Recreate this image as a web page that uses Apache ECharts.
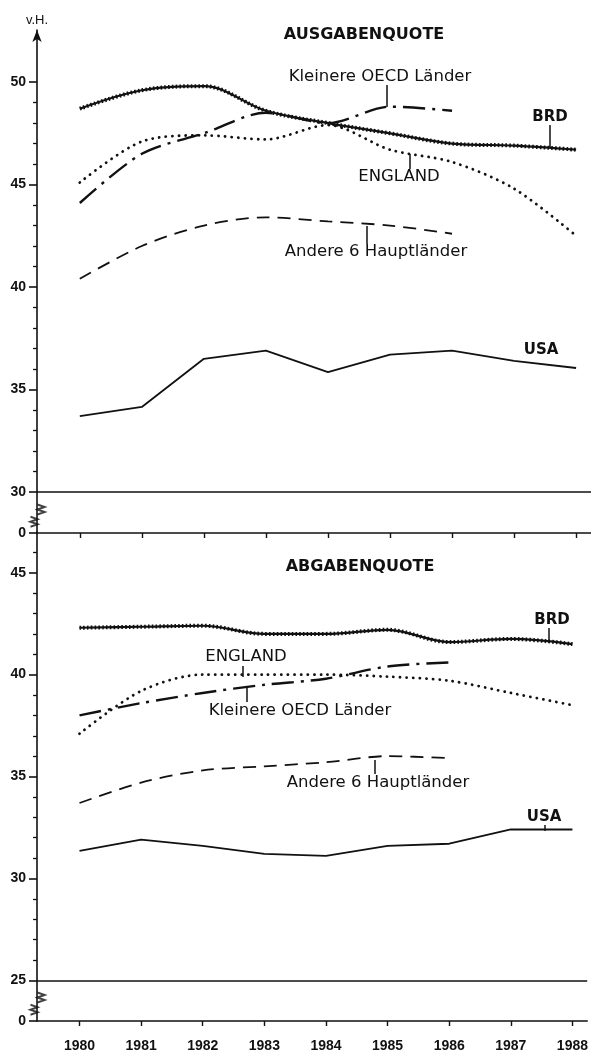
<!DOCTYPE html>
<html><head><meta charset="utf-8">
<script src="https://cdn.jsdelivr.net/npm/echarts@6/dist/echarts.min.js"></script>
<style>html,body{margin:0;padding:0;background:#fff}#c{width:591px;height:1053px}</style>
</head><body><div id="c"></div><script>
// ---- data ----
const years = [1980, 1981, 1982, 1983, 1984, 1985, 1986, 1987, 1988];
const yearsShort = [1980, 1981, 1982, 1983, 1984, 1985, 1986];
// Ausgabenquote (top)
const ausBRD = [48.7, 49.6, 49.8, 48.6, 48.0, 47.5, 47.0, 46.9, 46.7];
const ausEngland = [45.1, 47.1, 47.4, 47.2, 47.9, 46.7, 46.1, 44.8, 42.5];
const ausKleinere = [44.1, 46.5, 47.5, 48.5, 48.0, 48.8, 48.6];
const ausAndere = [40.4, 42.0, 43.0, 43.4, 43.2, 43.0, 42.6];
const ausUSA = [33.7, 34.15, 36.5, 36.9, 35.85, 36.7, 36.9, 36.4, 36.05];
// Abgabenquote (bottom)
const abgBRD = [42.3, 42.35, 42.4, 42.0, 42.0, 42.2, 41.6, 41.75, 41.5];
const abgEngland = [37.1, 39.2, 40.0, 40.0, 40.0, 39.9, 39.7, 39.1, 38.5];
const abgKleinere = [38.0, 38.6, 39.1, 39.5, 39.8, 40.4, 40.6];
const abgAndere = [33.7, 34.7, 35.3, 35.5, 35.7, 36.0, 35.9];
const abgUSA = [31.35, 31.9, 31.6, 31.2, 31.1, 31.6, 31.7, 32.4, 32.4];
// tick labels
const topMajor = [28, 30, 35, 40, 45, 50];
const topMinor = [31, 32, 33, 34, 36, 37, 38, 39, 41, 42, 43, 44, 46, 47, 48, 49];
const botMajor = [23, 25, 30, 35, 40, 45];
const botMinor = [26, 27, 28, 29, 31, 32, 33, 34, 36, 37, 38, 39, 41, 42, 43, 44, 46];
const topZero = 28, botZero = 23;   // axis positions standing for "0" after the break
const topBase = 30, botBase = 25;

const INK = '#111';
const pairs = (xs, vs) => vs.map((v, i) => [xs[i], v]);
const XMIN = 1979.31, XMAX = 1988.24;

function xAx(grid, labels) {
  return {
    type: 'value', gridIndex: grid, min: XMIN, max: XMAX,
    axisLine: { show: true, onZero: false, lineStyle: { color: INK, width: 1.6 } },
    axisTick: { show: true, customValues: years, length: 5, lineStyle: { color: INK, width: 1.4 } },
    axisLabel: labels ? { show: true, customValues: years, margin: 18, color: INK,
      fontFamily: 'Liberation Sans', fontWeight: 'bold', fontSize: 14, formatter: v => String(v) } : { show: false },
    splitLine: { show: false }
  };
}
function yMajor(grid, min, max, major, zero, arrow) {
  return {
    type: 'value', gridIndex: grid, min: min, max: max, position: 'left', offset: 0,
    name: arrow ? 'v.H.' : '', nameLocation: 'end', nameGap: 3,
    nameTextStyle: { color: INK, fontFamily: 'Liberation Sans', fontSize: 13, align: 'center' },
    axisLine: { show: true, onZero: false, symbol: arrow ? ['none', 'arrow'] : ['none', 'none'],
      symbolSize: [7, 12], lineStyle: { color: INK, width: 1.6 } },
    axisTick: { show: true, customValues: major, length: 8, lineStyle: { color: INK, width: 1.6 } },
    axisLabel: { show: true, customValues: major, margin: 11, color: INK,
      fontFamily: 'Liberation Sans', fontWeight: 'bold', fontSize: 14,
      formatter: v => (v === zero ? '0' : String(v)) },
    splitLine: { show: false }
  };
}
function yMinor(grid, min, max, minor) {
  return {
    type: 'value', gridIndex: grid, min: min, max: max, position: 'left', offset: 0,
    axisLine: { show: false, onZero: false },
    axisTick: { show: true, customValues: minor, length: 4, lineStyle: { color: INK, width: 1.3 } },
    axisLabel: { show: false }, splitLine: { show: false }
  };
}

const styles = {
  usa: { color: INK, width: 1.8, type: 'solid' },
  andere: { color: INK, width: 1.8, type: [13, 8] },
  kleinere: { color: INK, width: 2.4, type: [22, 7, 3, 7] },
  england: { color: INK, width: 2.8, type: [0.1, 6.5], cap: 'round' },
  brd: { color: INK, width: 2.2, type: 'solid' },
  brdWave: { color: INK, width: 4.0, type: [1.6, 2.2] }
};
function line(grid, yIdx, xs, vs, st, smooth, z) {
  return { type: 'line', xAxisIndex: grid, yAxisIndex: yIdx, data: pairs(xs, vs),
    showSymbol: false, symbol: 'none', smooth: smooth, silent: true, z: z || 2,
    lineStyle: st };
}
function base(grid, yIdx, val) {
  return { type: 'line', xAxisIndex: grid, yAxisIndex: yIdx, data: [], silent: true,
    markLine: { silent: true, symbol: ['none', 'none'], label: { show: false },
      lineStyle: { color: INK, width: 1.6, type: 'solid' }, data: [{ yAxis: val }] } };
}
const zig = 'path://M0 0 L7 2.5 L0 5 L7 7.5 L0 10';
function breakMarks(grid, yIdx, v1, v2) {
  return { type: 'scatter', xAxisIndex: grid, yAxisIndex: yIdx, silent: true,
    data: [{ value: [XMIN, v1], symbolOffset: [4, 0] }, { value: [XMIN, v2], symbolOffset: [-3, 0] }],
    symbol: zig, symbolSize: [7, 10],
    itemStyle: { color: 'none', borderColor: INK, borderWidth: 1.8 } };
}

const option = {
  animation: false,
  backgroundColor: '#fff',
  grid: [
    { left: 37, top: 30, width: 554, height: 503 },
    { left: 37, top: 532, width: 554, height: 492 }
  ],
  xAxis: [xAx(0, false), xAx(1, true)],
  yAxis: [
    yMajor(0, 28, 52.54, topMajor, topZero, true),
    yMinor(0, 28, 52.54, topMinor),
    yMajor(1, 23, 47, botMajor, botZero, false),
    yMinor(1, 23, 47, botMinor)
  ],
  series: [
    base(0, 0, topBase),
    base(1, 2, botBase),
    breakMarks(0, 0, 29.15, 28.55),
    breakMarks(1, 2, 24.15, 23.55),
    line(0, 0, years, ausUSA, styles.usa, false),
    line(0, 0, yearsShort, ausAndere, styles.andere, 0.3),
    line(0, 0, years, ausEngland, styles.england, 0.3),
    line(0, 0, yearsShort, ausKleinere, styles.kleinere, 0.3),
    line(0, 0, years, ausBRD, styles.brd, 0.35, 3),
    line(0, 0, years, ausBRD, styles.brdWave, 0.35, 3),
    line(1, 2, years, abgUSA, styles.usa, false),
    line(1, 2, yearsShort, abgAndere, styles.andere, 0.3),
    line(1, 2, years, abgEngland, styles.england, 0.3),
    line(1, 2, yearsShort, abgKleinere, styles.kleinere, 0.3),
    line(1, 2, years, abgBRD, styles.brd, 0.35, 3),
    line(1, 2, years, abgBRD, styles.brdWave, 0.35, 3)
  ]
};

const chart = echarts.init(document.getElementById('c'));
chart.setOption(option);

// ---- annotations (titles, series names and pointer strokes) ----
const FONT = '16.5px "DejaVu Sans"';
const TITLEFONT = 'bold 16px "DejaVu Sans"';
const NAMEFONT = 'bold 15px "DejaVu Sans"';
const notes = [
  { t: 'AUSGABENQUOTE', x: 364, y: 35, f: TITLEFONT },
  { t: 'Kleinere OECD Länder', x: 380, y: 77, p: [387, 85, 107] },
  { t: 'BRD', x: 550, y: 117, f: NAMEFONT, p: [550, 125, 147] },
  { t: 'ENGLAND', x: 399, y: 177, p: [410, 169, 154] },
  { t: 'Andere 6 Hauptländer', x: 376, y: 252, p: [367, 244, 226] },
  { t: 'USA', x: 541, y: 350, f: NAMEFONT },
  { t: 'ABGABENQUOTE', x: 360, y: 567, f: TITLEFONT },
  { t: 'BRD', x: 552, y: 620, f: NAMEFONT, p: [549, 628, 643] },
  { t: 'ENGLAND', x: 246, y: 657, p: [243, 666, 677] },
  { t: 'Kleinere OECD Länder', x: 300, y: 711, p: [247, 702, 687] },
  { t: 'Andere 6 Hauptländer', x: 378, y: 783, p: [375, 774, 760] },
  { t: 'USA', x: 544, y: 817, f: NAMEFONT, p: [545, 825, 831] }
];
const g = [];
notes.forEach(n => {
  g.push({ type: 'text', silent: true, style: { text: n.t, x: n.x, y: n.y, font: n.f || FONT,
    fill: INK, textAlign: 'center', textVerticalAlign: 'middle' } });
  if (n.p) g.push({ type: 'line', silent: true, shape: { x1: n.p[0], y1: n.p[1], x2: n.p[0], y2: n.p[2] },
    style: { stroke: INK, lineWidth: 1.5 } });
});
chart.setOption({ graphic: g });
</script></body></html>
